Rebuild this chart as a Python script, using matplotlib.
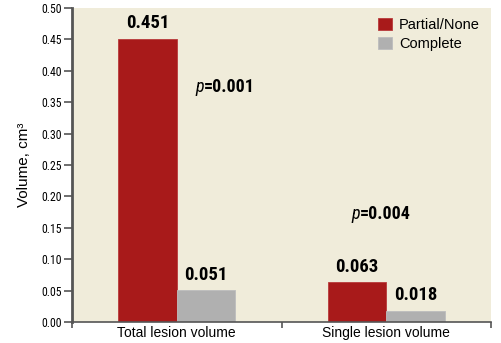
import numpy as np
import matplotlib
matplotlib.use("Agg")
import matplotlib.pyplot as plt

# =================== Data ===================
categories = ["Total lesion volume", "Single lesion volume"]
partial_none = [0.451, 0.063]
complete = [0.051, 0.018]
p_values = ["0.001", "0.004"]
y_ticks = [0.00, 0.05, 0.10, 0.15, 0.20, 0.25, 0.30, 0.35, 0.40, 0.45, 0.50]

NARROW = ["Roboto Condensed", "Archivo Narrow", "DejaVu Sans"]
REGULAR = ["Liberation Sans", "DejaVu Sans"]

red = "#A81A1A"
grey = "#B0B0B0"
bg = "#F0ECDA"
axis_col = "#555555"

# =================== Plot ===================
fig = plt.figure(figsize=(5.02, 3.43), dpi=100)
ax = fig.add_axes([72 / 502, 1 - 322 / 343, 419 / 502, 314 / 343])
ax.set_facecolor(bg)

centers = np.arange(len(categories)) + 0.5
w = 0.28
ax.bar(centers - w / 2, partial_none, w, color=red, edgecolor="#B83A3A",
       linewidth=0.6, label="Partial/None")
ax.bar(centers + w / 2, complete, w, color=grey, edgecolor="#BDBDBD",
       linewidth=0.6, label="Complete")

for xs, vals in ((centers - w / 2, partial_none), (centers + w / 2, complete)):
    for c, v in zip(xs, vals):
        ax.text(c, v + 0.010, f"{v:.3f}", ha="center", va="bottom",
                fontsize=13.5, fontweight="bold", family=NARROW, stretch="condensed")

# p-values: italic p followed by bold value
p_pos = [(0.587, 0.374), (1.332, 0.172)]
for (x, y), p in zip(p_pos, p_values):
    t = ax.text(x, y, "p", ha="left", va="center", fontsize=13,
                fontstyle="italic", family=NARROW, stretch="condensed")
    ax.annotate(f"={p}", xy=(1, 0.5), xycoords=t, ha="left", va="center",
                fontsize=13, fontweight="bold", family=NARROW, stretch="condensed")

ax.set_xlim(0, 2)
ax.set_ylim(0, 0.5)
ax.set_xticks([0, 1, 2])
ax.set_xticklabels([])
ax.set_xticks(centers, minor=True)
ax.set_xticklabels(categories, minor=True, fontsize=10, family=REGULAR)
ax.tick_params(axis="x", which="minor", length=0, pad=3)
ax.tick_params(axis="x", which="major", length=4, width=1.2, color=axis_col)
ax.set_yticks(y_ticks)
ax.set_yticklabels([f"{t:.2f}" for t in y_ticks], fontsize=8.5, family=NARROW,
                   stretch="condensed")
ax.tick_params(axis="y", length=5.5, width=1.2, color=axis_col, pad=1.5)

ax.spines["top"].set_visible(False)
ax.spines["right"].set_visible(False)
ax.spines["left"].set_color(axis_col)
ax.spines["left"].set_linewidth(2)
ax.spines["bottom"].set_color(axis_col)
ax.spines["bottom"].set_linewidth(1.2)

ax.set_ylabel("Volume, cm³", fontsize=11, family=REGULAR, labelpad=8)

ax.legend(loc="upper left", bbox_to_anchor=((372 - 72) / 419, (322 - 12) / 314),
          frameon=False, prop={"family": REGULAR, "size": 10.5},
          handlelength=1.0, handleheight=0.85, handletextpad=0.45,
          labelspacing=0.35, borderaxespad=0, borderpad=0.4)

fig.savefig("out.png", dpi=100)
